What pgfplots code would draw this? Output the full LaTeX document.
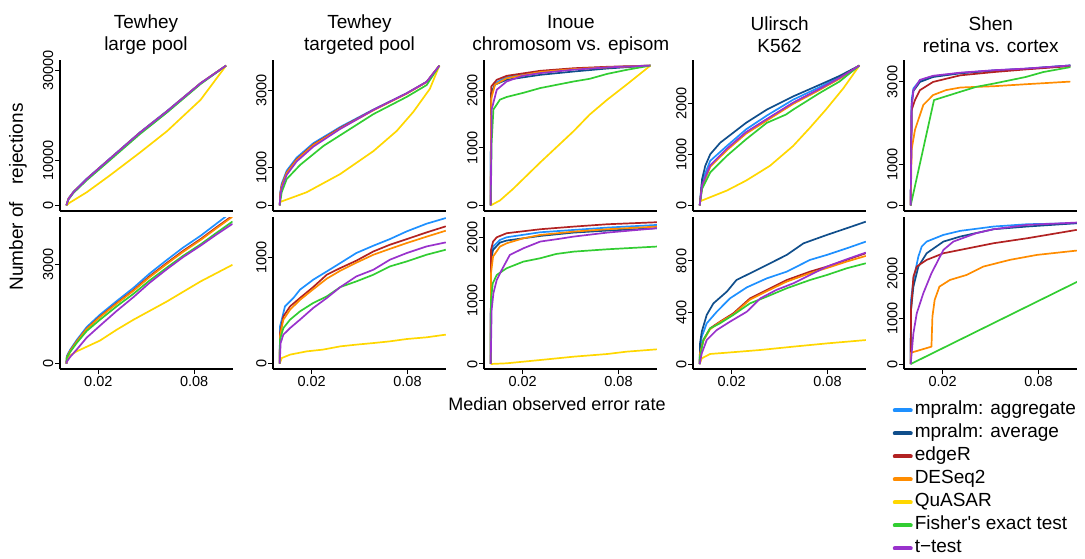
\documentclass[border=0pt]{standalone}
\usepackage{fontspec}
\setmainfont{Liberation Sans}
\usepackage{pgfplots}
\pgfplotsset{compat=1.18}
\definecolor{cAgg}{RGB}{30,144,255}
\definecolor{cAvg}{RGB}{16,78,139}
\definecolor{cEdg}{RGB}{178,34,34}
\definecolor{cDes}{RGB}{255,140,0}
\definecolor{cQua}{RGB}{255,215,0}
\definecolor{cFis}{RGB}{50,205,50}
\definecolor{cTt}{RGB}{153,50,204}
\pgfplotsset{
  sAgg/.style={color=cAgg, line width=1.7pt, line join=round},
  sAvg/.style={color=cAvg, line width=1.7pt, line join=round},
  sEdg/.style={color=cEdg, line width=1.7pt, line join=round},
  sDes/.style={color=cDes, line width=1.7pt, line join=round},
  sQua/.style={color=cQua, line width=1.7pt, line join=round},
  sFis/.style={color=cFis, line width=1.7pt, line join=round},
  sTt/.style={color=cTt, line width=1.7pt, line join=round},
  panel/.style={scale only axis, width=172.5pt,
    axis x line*=bottom, axis y line*=left,
    axis line style={line width=1.8pt, -},
    every tick/.style={black, line width=1pt},
    major tick length=5pt, tick align=outside,
    minor tick num=0, scaled ticks=false,
    ticklabel style={font=\fontsize{14.5}{16}\selectfont},
    yticklabel style={rotate=90, anchor=south, inner sep=1.5pt},
    xticklabel style={inner sep=2pt},
  },
  toppanel/.style={panel, height=151pt, xmin=-0.04, xmax=1.04, xtick=\empty},
  botpanel/.style={panel, height=152pt, xmin=-0.004, xmax=0.104,
    xtick={0.02,0.08}, xticklabels={0.02,0.08}},
}
\begin{document}
\begin{tikzpicture}[x=1pt,y=1pt]
\path[use as bounding box] (0pt,0pt) rectangle (1085pt,558pt);
\def\tfont{\fontsize{19}{22}\selectfont}
% titles
\node[font=\tfont, align=center] at (146pt,523pt) {Tewhey\\large pool};
\node[font=\tfont, align=center] at (359.5pt,523pt) {Tewhey\\targeted pool};
\node[font=\tfont, align=center] at (570.8pt,523pt) {Inoue\\chromosom vs. episom};
\node[font=\tfont, align=center] at (779.6pt,523pt) {Ulirsch\\K562};
\node[font=\tfont, align=center] at (990.8pt,523pt) {Shen\\retina vs. cortex};
\node[font=\fontsize{19}{21}\selectfont, rotate=90] at (18pt,361pt) {Number of\hspace{0.9em}rejections};
\node[font=\fontsize{18}{20}\selectfont] at (557pt,154pt) {Median observed error rate};

%================ TOP ROW ================
\begin{axis}[toppanel, at={(60pt,347pt)}, anchor=south west,
  ymin=-1240, ymax=32240, ytick={0,10000,30000}, yticklabels={0,10000,30000}]
\addplot[sAgg] coordinates {(0,0) (0.013,1560) (0.044,3030) (0.128,5950) (0.27,10340) (0.46,16200) (0.63,20950) (0.84,27120) (1,31000)};
\addplot[sEdg] coordinates {(0,0) (0.013,1460) (0.044,2930) (0.128,5850) (0.27,10240) (0.46,16100) (0.63,20850) (0.84,27070) (1,31000)};
\addplot[sDes] coordinates {(0,0) (0.013,1460) (0.044,2930) (0.128,5850) (0.27,10240) (0.46,16100) (0.63,20850) (0.84,27070) (1,31000)};
\addplot[sQua] coordinates {(0,0) (0.02,585) (0.128,2930) (0.27,6590) (0.46,11700) (0.63,16460) (0.84,23400) (1,31000)};
\addplot[sFis] coordinates {(0,0) (0.013,1300) (0.044,2750) (0.128,5600) (0.27,9950) (0.46,15800) (0.63,20600) (0.84,26900) (1,31000)};
\addplot[sTt] coordinates {(0,0) (0.013,1400) (0.044,2900) (0.128,5850) (0.27,10250) (0.46,16100) (0.63,20850) (0.84,27070) (1,31000)};
\end{axis}

\begin{axis}[toppanel, at={(273.3pt,347pt)}, anchor=south west,
  ymin=-146, ymax=3806, ytick={0,1000,3000}, yticklabels={0,1000,3000}]
\addplot[sAgg] coordinates {(0,0) (0.004,360) (0.0125,570) (0.044,910) (0.106,1250) (0.211,1630) (0.378,2050) (0.587,2510) (0.795,2935) (0.92,3235) (1,3660)};
\addplot[sEdg] coordinates {(0,0) (0.004,300) (0.0125,517) (0.044,862) (0.106,1207) (0.211,1595) (0.378,2026) (0.587,2500) (0.795,2931) (0.92,3233) (1,3660)};
\addplot[sDes] coordinates {(0,0) (0.004,290) (0.0125,500) (0.044,850) (0.106,1190) (0.211,1580) (0.378,2010) (0.587,2490) (0.795,2925) (0.92,3230) (1,3660)};
\addplot[sQua] coordinates {(0,86) (0.169,345) (0.378,819) (0.587,1422) (0.733,1950) (0.837,2450) (0.94,3050) (1,3660)};
\addplot[sFis] coordinates {(0,0) (0.0125,345) (0.044,690) (0.128,1060) (0.275,1560) (0.587,2390) (0.795,2840) (0.92,3150) (1,3660)};
\addplot[sTt] coordinates {(0,0) (0.004,250) (0.0125,450) (0.044,800) (0.106,1150) (0.211,1540) (0.378,2000) (0.587,2500) (0.795,2935) (0.92,3235) (1,3660)};
\end{axis}

\begin{axis}[toppanel, at={(484.3pt,347pt)}, anchor=south west,
  ymin=-97, ymax=2528, ytick={0,1000,2000}, yticklabels={0,1000,2000}]
\addplot[sAgg] coordinates {(0,0) (0.002,1900) (0.027,2126) (0.1,2230) (0.31,2328) (0.52,2374) (0.73,2402) (1,2431)};
\addplot[sAvg] coordinates {(0,0) (0.002,1950) (0.027,2100) (0.1,2184) (0.31,2270) (0.52,2328) (0.73,2380) (1,2431)};
\addplot[sEdg] coordinates {(0,0) (0.004,2069) (0.038,2184) (0.1,2253) (0.31,2340) (0.52,2385) (0.73,2410) (1,2431)};
\addplot[sDes] coordinates {(0,0) (0.003,1850) (0.027,2100) (0.1,2210) (0.31,2320) (0.52,2370) (0.73,2400) (1,2431)};
\addplot[sQua] coordinates {(0,0) (0.058,86) (0.14,287) (0.31,747) (0.52,1293) (0.62,1580) (0.73,1839) (0.85,2098) (1,2431)};
\addplot[sFis] coordinates {(0,0) (0.006,1092) (0.017,1667) (0.058,1839) (0.1,1885) (0.2,1954) (0.31,2040) (0.52,2155) (0.62,2201) (0.73,2287) (0.85,2356) (1,2431)};
\addplot[sTt] coordinates {(0,0) (0.006,1667) (0.038,2011) (0.1,2155) (0.2,2253) (0.31,2300) (0.52,2360) (0.73,2400) (1,2431)};
\end{axis}

\begin{axis}[toppanel, at={(693.3pt,347pt)}, anchor=south west,
  ymin=-110, ymax=2859, ytick={0,1000,2000}, yticklabels={0,1000,2000}]
\addplot[sAgg] coordinates {(0,0) (0.015,480) (0.066,877) (0.17,1169) (0.29,1494) (0.42,1766) (0.585,2078) (0.75,2325) (0.875,2520) (1,2750)};
\addplot[sAvg] coordinates {(0,0) (0.015,519) (0.035,779) (0.066,1006) (0.129,1234) (0.21,1429) (0.29,1623) (0.42,1883) (0.585,2143) (0.75,2370) (0.875,2545) (1,2750)};
\addplot[sEdg] coordinates {(0,0) (0.015,390) (0.066,779) (0.17,1104) (0.29,1429) (0.42,1688) (0.585,2013) (0.75,2286) (0.875,2500) (1,2750)};
\addplot[sDes] coordinates {(0,0) (0.015,370) (0.066,760) (0.17,1085) (0.29,1410) (0.42,1668) (0.585,1995) (0.75,2270) (0.875,2490) (1,2750)};
\addplot[sQua] coordinates {(0,78) (0.17,292) (0.29,487) (0.44,779) (0.585,1169) (0.69,1526) (0.79,1883) (0.9,2305) (1,2750)};
\addplot[sFis] coordinates {(0,0) (0.015,325) (0.066,649) (0.17,974) (0.29,1299) (0.42,1623) (0.54,1786) (0.585,1883) (0.75,2208) (0.875,2435) (1,2750)};
\addplot[sTt] coordinates {(0,0) (0.015,400) (0.066,790) (0.17,1115) (0.29,1440) (0.42,1698) (0.585,2020) (0.75,2290) (0.875,2505) (1,2750)};
\end{axis}

\begin{axis}[toppanel, at={(904.3pt,347pt)}, anchor=south west,
  ymin=-136, ymax=3533, ytick={0,1000,3000}, yticklabels={0,1000,3000}]
\addplot[sAgg] coordinates {(0,0) (0.006,2560) (0.017,2840) (0.058,3040) (0.14,3136) (0.31,3216) (0.52,3280) (0.72,3320) (1,3400)};
\addplot[sAvg] coordinates {(0,0) (0.006,2450) (0.017,2780) (0.058,3000) (0.14,3120) (0.31,3210) (0.52,3275) (0.72,3318) (1,3400)};
\addplot[sEdg] coordinates {(0,0) (0.006,2320) (0.027,2560) (0.058,2800) (0.14,3000) (0.31,3160) (0.52,3240) (0.72,3304) (1,3384)};
\addplot[sDes] coordinates {(0,0) (0.006,1360) (0.027,1840) (0.079,2440) (0.14,2680) (0.22,2800) (0.31,2864) (0.52,2896) (0.72,2944) (1,3008)};
\addplot[sFis] coordinates {(0,0) (0.146,2560) (0.31,2760) (0.41,2880) (0.52,2960) (0.72,3120) (0.83,3240) (1,3360)};
\addplot[sTt] coordinates {(0,0) (0.006,2400) (0.017,2800) (0.058,3050) (0.14,3150) (0.31,3225) (0.52,3285) (0.72,3325) (1,3400)};
\end{axis}

%================ BOTTOM ROW ================
\begin{axis}[botpanel, at={(60pt,188.7pt)}, anchor=south west,
  ymin=-171, ymax=4441, ytick={0,3000}, yticklabels={0,3000}]
\addplot[sAgg] coordinates {(0,0) (0.0003,230) (0.0023,420) (0.0065,720) (0.0127,1110) (0.021,1485) (0.0315,1900) (0.042,2300) (0.052,2730) (0.063,3150) (0.073,3520) (0.084,3880) (0.094,4250) (0.104,4620)};
\addplot[sEdg] coordinates {(0,0) (0.0003,200) (0.0023,390) (0.0065,680) (0.0127,1060) (0.021,1430) (0.0315,1840) (0.042,2230) (0.052,2650) (0.063,3060) (0.073,3420) (0.084,3780) (0.094,4140) (0.104,4490)};
\addplot[sDes] coordinates {(0,0) (0.0003,190) (0.0023,380) (0.0065,670) (0.0127,1050) (0.021,1414) (0.0315,1820) (0.042,2210) (0.052,2620) (0.063,3030) (0.073,3390) (0.084,3750) (0.094,4110) (0.104,4460)};
\addplot[sQua] coordinates {(0,0) (0.0013,222) (0.0065,374) (0.021,700) (0.0315,1030) (0.042,1333) (0.063,1889) (0.084,2495) (0.104,3000)};
\addplot[sFis] coordinates {(0,0) (0.0003,180) (0.0023,350) (0.0065,630) (0.0127,990) (0.021,1333) (0.0315,1740) (0.042,2120) (0.052,2520) (0.063,2920) (0.073,3270) (0.084,3620) (0.094,3970) (0.104,4313)};
\addplot[sTt] coordinates {(0,0) (0.0003,60) (0.0023,200) (0.0065,430) (0.0127,790) (0.021,1151) (0.0315,1600) (0.042,2020) (0.052,2450) (0.063,2870) (0.073,3230) (0.084,3580) (0.094,3920) (0.104,4242)};
\end{axis}

\begin{axis}[botpanel, at={(273.3pt,188.7pt)}, anchor=south west,
  ymin=-53, ymax=1377, ytick={0,1000}, yticklabels={0,1000}]
\addplot[sAgg] coordinates {(0,0) (0.0002,351) (0.0013,414) (0.0033,539) (0.0086,618) (0.0127,696) (0.021,790) (0.0295,868) (0.038,947) (0.048,1041) (0.0587,1110) (0.069,1172) (0.0796,1245) (0.092,1317) (0.104,1370)};
\addplot[sEdg] coordinates {(0,0) (0.0002,288) (0.0023,445) (0.0065,539) (0.0127,618) (0.021,721) (0.0295,837) (0.038,900) (0.048,969) (0.0587,1056) (0.069,1119) (0.0796,1172) (0.092,1235) (0.104,1292)};
\addplot[sDes] coordinates {(0,0) (0.0002,260) (0.0023,414) (0.0065,508) (0.0127,600) (0.021,700) (0.0295,800) (0.038,875) (0.048,950) (0.0587,1025) (0.069,1080) (0.0796,1135) (0.092,1195) (0.104,1251)};
\addplot[sQua] coordinates {(0,0) (0.0013,53) (0.0065,85) (0.017,116) (0.027,132) (0.038,163) (0.048,179) (0.0587,194) (0.069,210) (0.0796,232) (0.092,248) (0.104,273)};
\addplot[sFis] coordinates {(0,0) (0.0002,226) (0.0023,335) (0.0065,414) (0.0127,492) (0.021,571) (0.0295,633) (0.038,721) (0.048,774) (0.0587,837) (0.069,915) (0.0796,962) (0.092,1025) (0.104,1072)};
\addplot[sTt] coordinates {(0,0) (0.0006,195) (0.0023,273) (0.0065,335) (0.0127,414) (0.021,524) (0.0295,618) (0.038,721) (0.048,821) (0.0587,884) (0.069,978) (0.0796,1041) (0.092,1103) (0.104,1141)};
\end{axis}

\begin{axis}[botpanel, at={(484.3pt,188.7pt)}, anchor=south west,
  ymin=-84, ymax=2321, ytick={0,1000,2000}, yticklabels={0,1000,2000}]
\addplot[sAgg] coordinates {(0,0) (0.0002,1700) (0.0015,1858) (0.0058,1963) (0.01,2005) (0.031,2084) (0.052,2121) (0.073,2158) (0.104,2200)};
\addplot[sAvg] coordinates {(0,0) (0.0002,1646) (0.0015,1805) (0.0058,1921) (0.01,1953) (0.031,2026) (0.052,2079) (0.073,2111) (0.104,2148)};
\addplot[sEdg] coordinates {(0,0) (0.0002,1805) (0.0015,1937) (0.0038,2005) (0.01,2069) (0.031,2132) (0.052,2174) (0.073,2211) (0.104,2243)};
\addplot[sDes] coordinates {(0,0) (0.0002,1435) (0.0015,1700) (0.0058,1858) (0.01,1910) (0.0205,1989) (0.031,2042) (0.052,2095) (0.073,2132) (0.104,2174)};
\addplot[sQua] coordinates {(0,0) (0.01,11) (0.031,63) (0.052,116) (0.073,158) (0.085,195) (0.104,232)};
\addplot[sFis] coordinates {(0,0) (0.0002,1013) (0.0013,1277) (0.0038,1409) (0.01,1515) (0.0205,1620) (0.031,1673) (0.041,1741) (0.052,1778) (0.073,1815) (0.104,1858)};
\addplot[sTt] coordinates {(0,0) (0.0006,855) (0.0017,1119) (0.0038,1330) (0.0069,1488) (0.012,1726) (0.0205,1831) (0.031,1937) (0.041,1973) (0.052,2016) (0.073,2079) (0.104,2148)};
\end{axis}

\begin{axis}[botpanel, at={(693.3pt,188.7pt)}, anchor=south west,
  ymin=-41, ymax=1139, ytick={0,400,800}, yticklabels={0,400,800}]
\addplot[sAgg] coordinates {(0,0) (0.0002,109) (0.0013,212) (0.0044,316) (0.0107,406) (0.019,510) (0.0295,595) (0.042,665) (0.0545,717) (0.069,808) (0.0796,847) (0.092,898) (0.104,950)};
\addplot[sAvg] coordinates {(0,0) (0.0002,160) (0.0013,251) (0.0044,381) (0.0086,471) (0.017,562) (0.023,652) (0.0315,704) (0.042,769) (0.0545,847) (0.065,937) (0.0796,1002) (0.092,1054) (0.104,1105)};
\addplot[sEdg] coordinates {(0,0) (0.0002,83) (0.0023,186) (0.0065,277) (0.0127,329) (0.021,393) (0.0315,510) (0.042,575) (0.0545,652) (0.069,717) (0.0796,756) (0.092,808) (0.104,860)};
\addplot[sDes] coordinates {(0,0) (0.0002,80) (0.0023,180) (0.0065,270) (0.0127,325) (0.021,385) (0.0315,500) (0.042,565) (0.0545,640) (0.069,705) (0.0796,745) (0.092,795) (0.104,839)};
\addplot[sQua] coordinates {(0,0) (0.0013,44) (0.0065,78) (0.017,88) (0.038,109) (0.0587,135) (0.0796,160) (0.104,186)};
\addplot[sFis] coordinates {(0,0) (0.0002,57) (0.0023,186) (0.0065,277) (0.0127,316) (0.021,381) (0.0315,471) (0.042,523) (0.0545,588) (0.069,652) (0.0796,691) (0.092,743) (0.104,782)};
\addplot[sTt] coordinates {(0,0) (0.0013,83) (0.0044,186) (0.0107,264) (0.019,329) (0.0295,406) (0.038,510) (0.048,575) (0.0587,627) (0.069,691) (0.0796,756) (0.092,813) (0.104,865)};
\end{axis}

\begin{axis}[botpanel, at={(904.3pt,188.7pt)}, anchor=south west,
  ymin=-117, ymax=3245, ytick={0,1000,2000}, yticklabels={0,1000,2000},
  legend style={at={(-0.067,-0.195)}, anchor=north west, draw=none, fill=none,
    inner sep=0pt, outer sep=0pt, row sep=0pt, column sep=0pt,
    font=\fontsize{19}{22}\selectfont,
    nodes={inner sep=2pt, text height=14pt, text depth=5pt}},
  legend cell align=left,
  legend image code/.code={\draw[#1, line width=4pt, line cap=round] (1pt,0pt) -- (17pt,0pt);}]
\addlegendimage{cAgg}
\addlegendimage{cAvg}
\addlegendimage{cEdg}
\addlegendimage{cDes}
\addlegendimage{cQua}
\addlegendimage{cFis}
\addlegendimage{cTt}
\addplot[sAgg] coordinates {(0,0) (0.0002,1417) (0.0017,1860) (0.0048,2376) (0.0069,2598) (0.01,2708) (0.0205,2856) (0.031,2945) (0.052,3041) (0.073,3092) (0.104,3114)};
\addplot[sAvg] coordinates {(0,0) (0.0002,1196) (0.0017,1712) (0.0048,2155) (0.01,2450) (0.0205,2708) (0.031,2819) (0.052,2982) (0.073,3041) (0.104,3114)};
\addplot[sEdg] coordinates {(0,0) (0.0002,1196) (0.0017,1934) (0.0038,2155) (0.01,2303) (0.0205,2450) (0.031,2524) (0.052,2672) (0.073,2782) (0.104,2967)};
\addplot[sDes] coordinates {(0,0) (0.0002,250) (0.013,384) (0.0136,1048) (0.015,1417) (0.018,1712) (0.0246,1860) (0.035,1970) (0.0455,2155) (0.062,2303) (0.079,2413) (0.104,2509)};
\addplot[sFis] coordinates {(0,0) (0.1045,1823)};
\addplot[sTt] coordinates {(0,0) (0.0017,679) (0.0038,1122) (0.0079,1565) (0.013,2007) (0.0205,2524) (0.0267,2708) (0.041,2893) (0.052,2982) (0.073,3077) (0.104,3129)};
\legend{mpralm: aggregate, mpralm: average, edgeR, DESeq2, QuASAR, Fisher\textquotesingle s exact test, t\symbol{"2212}test}
\end{axis}
\end{tikzpicture}
\end{document}
